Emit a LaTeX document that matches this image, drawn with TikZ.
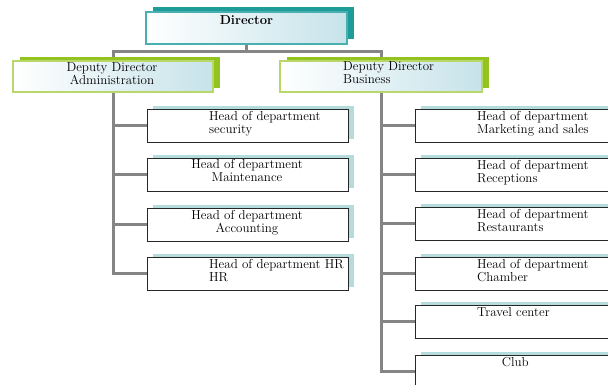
\documentclass[tikz,border=0pt]{standalone}
\usetikzlibrary{shadows,backgrounds}
\definecolor{lineg}{HTML}{858585}
\definecolor{teal1}{HTML}{1E9C9A}
\definecolor{tealb}{HTML}{4AAFB0}
\definecolor{grn}{HTML}{92C31E}
\definecolor{grnb}{HTML}{B9D76A}
\definecolor{lb}{HTML}{C6E3EA}
\definecolor{shl}{HTML}{B5DCDD}
\begin{document}
\begin{tikzpicture}[x=1pt,y=-1pt,
  conn/.style={draw=lineg, line width=3pt, line join=miter},
  bx/.style={anchor=north west, inner sep=0pt, outer sep=0pt},
  topbox/.style={bx, left color=white, right color=lb, draw=tealb, line width=1.2pt,
    general shadow={fill=teal1, shadow xshift=7pt, shadow yshift=4.5pt}},
  depbox/.style={bx, left color=white, right color=lb, draw=grnb, line width=1.2pt,
    general shadow={fill=grn, shadow xshift=7pt, shadow yshift=4pt}},
  headbox/.style={bx, fill=white, draw=black!85, line width=0.8pt,
    general shadow={fill=shl, shadow xshift=6pt, shadow yshift=3pt},
    minimum width=201pt, minimum height=33pt},
  rheadbox/.style={headbox, minimum width=240pt},
  txt/.style={inner sep=0pt, font=\fontsize{13}{12.8}\selectfont},
  ltxt/.style={txt, anchor=north west, align=left},
  ctxt/.style={txt, anchor=north, align=center},
]
\path[use as bounding box, clip] (0,0) rectangle (608,385);

% boxes
\node[topbox, minimum width=201pt, minimum height=32pt] (dir) at (146,12) {};
\node[depbox, minimum width=200pt, minimum height=31pt] (dadm) at (13,61) {};
\node[depbox, minimum width=202pt, minimum height=31pt] (dbus) at (280,61) {};

\node[headbox] (sec) at (147,109) {};
\node[headbox] (mnt) at (147,158) {};
\node[headbox] (acc) at (147,208) {};
\node[headbox] (hhr) at (147,257) {};

\node[rheadbox] (mkt)  at (415,109) {};
\node[rheadbox] (rec)  at (415,158) {};
\node[rheadbox] (rst)  at (415,207) {};
\node[rheadbox] (chm)  at (415,257) {};
\node[rheadbox] (trv)  at (415,305) {};
\node[rheadbox] (club) at (415,355) {};

% texts
\node[txt, anchor=north, font=\fontsize{13}{13}\selectfont\bfseries] (tdir) at (246.5,14.9) {Director};
\node[ctxt] (tdadm) at (112,62.4) {Deputy Director\\Administration};
\node[ltxt] (tdbus) at (343,61.6) {Deputy Director\\Business};

\node[ltxt] (tsec) at (209,110.9) {Head of department\\security};
\node[ctxt] (tmnt) at (247,159.2) {Head of department\\Maintenance};
\node[ctxt] (tacc) at (247,209.9) {Head of department\\Accounting};
\node[ltxt] (thr)  at (209,258.9) {Head of department HR\\HR};

\node[ltxt] (tmkt) at (477,110.9) {Head of department\\Marketing and sales};
\node[ltxt] (trec) at (477,159.9) {Head of department\\Receptions};
\node[ltxt] (trst) at (477,208.9) {Head of department\\Restaurants};
\node[ltxt] (tchm) at (477,258.9) {Head of department\\Chamber};
\node[ltxt] (ttrv) at (477,306.9) {Travel center};
\node[ltxt] (tclub) at (501.7,357.6) {Club};

% connectors
\begin{scope}[on background layer]
\fill[white] (0,0) rectangle (608,385);
\coordinate (jl) at (113,52);
\coordinate (jr) at (381,52);
\draw[conn] (dir.south) -- (dir.south |- jl);
\draw[conn] (hhr.west) -| (jl) -- (jr) |- (club.west);
\foreach \n in {sec,mnt,acc} \draw[conn] (jl |- \n.west) -- (\n.west);
\foreach \n in {mkt,rec,rst,chm,trv} \draw[conn] (jr |- \n.west) -- (\n.west);
\end{scope}
\end{tikzpicture}
\end{document}
